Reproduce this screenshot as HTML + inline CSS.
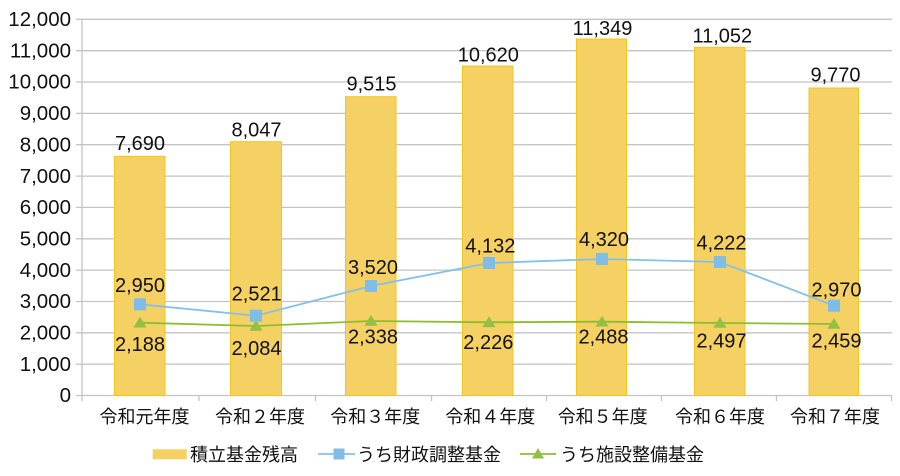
<!DOCTYPE html>
<html>
<head>
<meta charset="utf-8">
<style>
html,body{margin:0;padding:0;background:#fff;}
svg{display:block;}
text{font-family:"Liberation Sans","Noto Sans CJK JP",sans-serif;fill:#111;}
.y{font-size:20.5px;text-anchor:end;}
.d{font-size:20px;text-anchor:middle;}
.x{font-size:18px;text-anchor:middle;font-family:"Noto Sans CJK JP","Liberation Sans",sans-serif;}
.l{font-size:18px;font-family:"Noto Sans CJK JP","Liberation Sans",sans-serif;}
</style>
</head>
<body>
<svg width="900" height="476" viewBox="0 0 900 476" xmlns="http://www.w3.org/2000/svg">
  <!-- gridlines -->
  <g stroke="#C4C4C4" stroke-width="1.3">
    <line x1="76" y1="19.3" x2="892" y2="19.3"/>
    <line x1="76" y1="50.7" x2="892" y2="50.7"/>
    <line x1="76" y1="82" x2="892" y2="82"/>
    <line x1="76" y1="113.4" x2="892" y2="113.4"/>
    <line x1="76" y1="144.7" x2="892" y2="144.7"/>
    <line x1="76" y1="176.1" x2="892" y2="176.1"/>
    <line x1="76" y1="207.4" x2="892" y2="207.4"/>
    <line x1="76" y1="238.8" x2="892" y2="238.8"/>
    <line x1="76" y1="270.1" x2="892" y2="270.1"/>
    <line x1="76" y1="301.5" x2="892" y2="301.5"/>
    <line x1="76" y1="332.8" x2="892" y2="332.8"/>
    <line x1="76" y1="364.2" x2="892" y2="364.2"/>
    <line x1="76" y1="395.5" x2="892" y2="395.5"/>
    <line x1="82" y1="19.3" x2="82" y2="401"/>
    <line x1="199" y1="395.5" x2="199" y2="401"/>
    <line x1="315.5" y1="395.5" x2="315.5" y2="401"/>
    <line x1="431.5" y1="395.5" x2="431.5" y2="401"/>
    <line x1="546.5" y1="395.5" x2="546.5" y2="401"/>
    <line x1="661.5" y1="395.5" x2="661.5" y2="401"/>
    <line x1="776.5" y1="395.5" x2="776.5" y2="401"/>
    <line x1="891.5" y1="395.5" x2="891.5" y2="401"/>
  </g>
  <!-- y labels -->
  <g class="y">
    <text class="y" x="71" y="26">12,000</text>
    <text class="y" x="71" y="57.4">11,000</text>
    <text class="y" x="71" y="88.7">10,000</text>
    <text class="y" x="71" y="120.1">9,000</text>
    <text class="y" x="71" y="151.4">8,000</text>
    <text class="y" x="71" y="182.8">7,000</text>
    <text class="y" x="71" y="214.1">6,000</text>
    <text class="y" x="71" y="245.5">5,000</text>
    <text class="y" x="71" y="276.8">4,000</text>
    <text class="y" x="71" y="308.2">3,000</text>
    <text class="y" x="71" y="339.5">2,000</text>
    <text class="y" x="71" y="370.9">1,000</text>
    <text class="y" x="71" y="402">0</text>
  </g>
  <!-- bars -->
  <g fill="#F5D062" stroke="#F4C61C" stroke-width="1">
    <rect x="114.5" y="156.3" width="50.5" height="239.2"/>
    <rect x="230.5" y="141.7" width="51" height="253.8"/>
    <rect x="345.5" y="96.7" width="50.5" height="298.8"/>
    <rect x="462.5" y="66" width="50.5" height="329.5"/>
    <rect x="576.5" y="39" width="50" height="356.5"/>
    <rect x="694.5" y="47.3" width="50.5" height="348.2"/>
    <rect x="809" y="88" width="49.5" height="307.5"/>
  </g>
  <!-- bar labels -->
  <text class="d" x="140" y="150">7,690</text>
  <text class="d" x="256.5" y="136.7">8,047</text>
  <text class="d" x="371.5" y="90.7">9,515</text>
  <text class="d" x="488.3" y="61.7">10,620</text>
  <text class="d" x="602.5" y="35">11,349</text>
  <text class="d" x="722.3" y="42.3">11,052</text>
  <text class="d" x="835.5" y="81.7">9,770</text>
  <!-- green line -->
  <polyline fill="none" stroke="#8DBE2E" stroke-width="1.8" points="140,322.7 256,326 371,321 489,322.3 602,321.7 720,323 834,324"/>
  <g fill="#93C044">
    <polygon points="140,316.7 146.5,327.5 133.5,327.5"/>
    <polygon points="256,320 262.5,330.8 249.5,330.8"/>
    <polygon points="371,315 377.5,325.8 364.5,325.8"/>
    <polygon points="489,316.3 495.5,327.1 482.5,327.1"/>
    <polygon points="602,315.7 608.5,326.5 595.5,326.5"/>
    <polygon points="720,317 726.5,327.8 713.5,327.8"/>
    <polygon points="834,318 840.5,328.8 827.5,328.8"/>
  </g>
  <!-- blue line -->
  <polyline fill="none" stroke="#84C1EA" stroke-width="1.8" points="140,304.3 256,315.7 371,286 489,263 602,259 720,262 834,305.7"/>
  <g fill="#80BCE8">
    <rect x="134" y="298.3" width="12" height="12"/>
    <rect x="250" y="309.7" width="12" height="12"/>
    <rect x="365" y="280" width="12" height="12"/>
    <rect x="483" y="257" width="12" height="12"/>
    <rect x="596" y="253" width="12" height="12"/>
    <rect x="714" y="256" width="12" height="12"/>
    <rect x="828" y="299.7" width="12" height="12"/>
  </g>
  <!-- blue labels -->
  <text class="d" x="140" y="292">2,950</text>
  <text class="d" x="256.7" y="300.7">2,521</text>
  <text class="d" x="373" y="274">3,520</text>
  <text class="d" x="490.3" y="252.3">4,132</text>
  <text class="d" x="604" y="246">4,320</text>
  <text class="d" x="721.5" y="249.3">4,222</text>
  <text class="d" x="836.5" y="296.7">2,970</text>
  <!-- green labels -->
  <text class="d" x="140" y="351">2,188</text>
  <text class="d" x="256.5" y="355">2,084</text>
  <text class="d" x="373" y="343.3">2,338</text>
  <text class="d" x="488.3" y="349">2,226</text>
  <text class="d" x="603.5" y="343.3">2,488</text>
  <text class="d" x="721.5" y="347.3">2,497</text>
  <text class="d" x="836.5" y="347.3">2,459</text>
  <!-- x labels -->
  <text class="x" x="144.5" y="423">令和元年度</text>
  <text class="x" x="260" y="423">令和２年度</text>
  <text class="x" x="375.3" y="423">令和３年度</text>
  <text class="x" x="490.3" y="423">令和４年度</text>
  <text class="x" x="602.7" y="423">令和５年度</text>
  <text class="x" x="720" y="423">令和６年度</text>
  <text class="x" x="835" y="423">令和７年度</text>
  <!-- legend -->
  <rect x="152.7" y="449.3" width="34" height="10" fill="#F5D062"/>
  <text class="l" x="190" y="461">積立基金残高</text>
  <line x1="318" y1="454" x2="355" y2="454" stroke="#84C1EA" stroke-width="1.8"/>
  <rect x="333.5" y="448.5" width="11" height="11" fill="#80BCE8"/>
  <text class="l" x="357" y="461">うち財政調整基金</text>
  <line x1="520" y1="454" x2="556" y2="454" stroke="#8DBE2E" stroke-width="1.8"/>
  <polygon points="538,448 544,458.5 532,458.5" fill="#93C044"/>
  <text class="l" x="560" y="461">うち施設整備基金</text>
</svg>
</body>
</html>
